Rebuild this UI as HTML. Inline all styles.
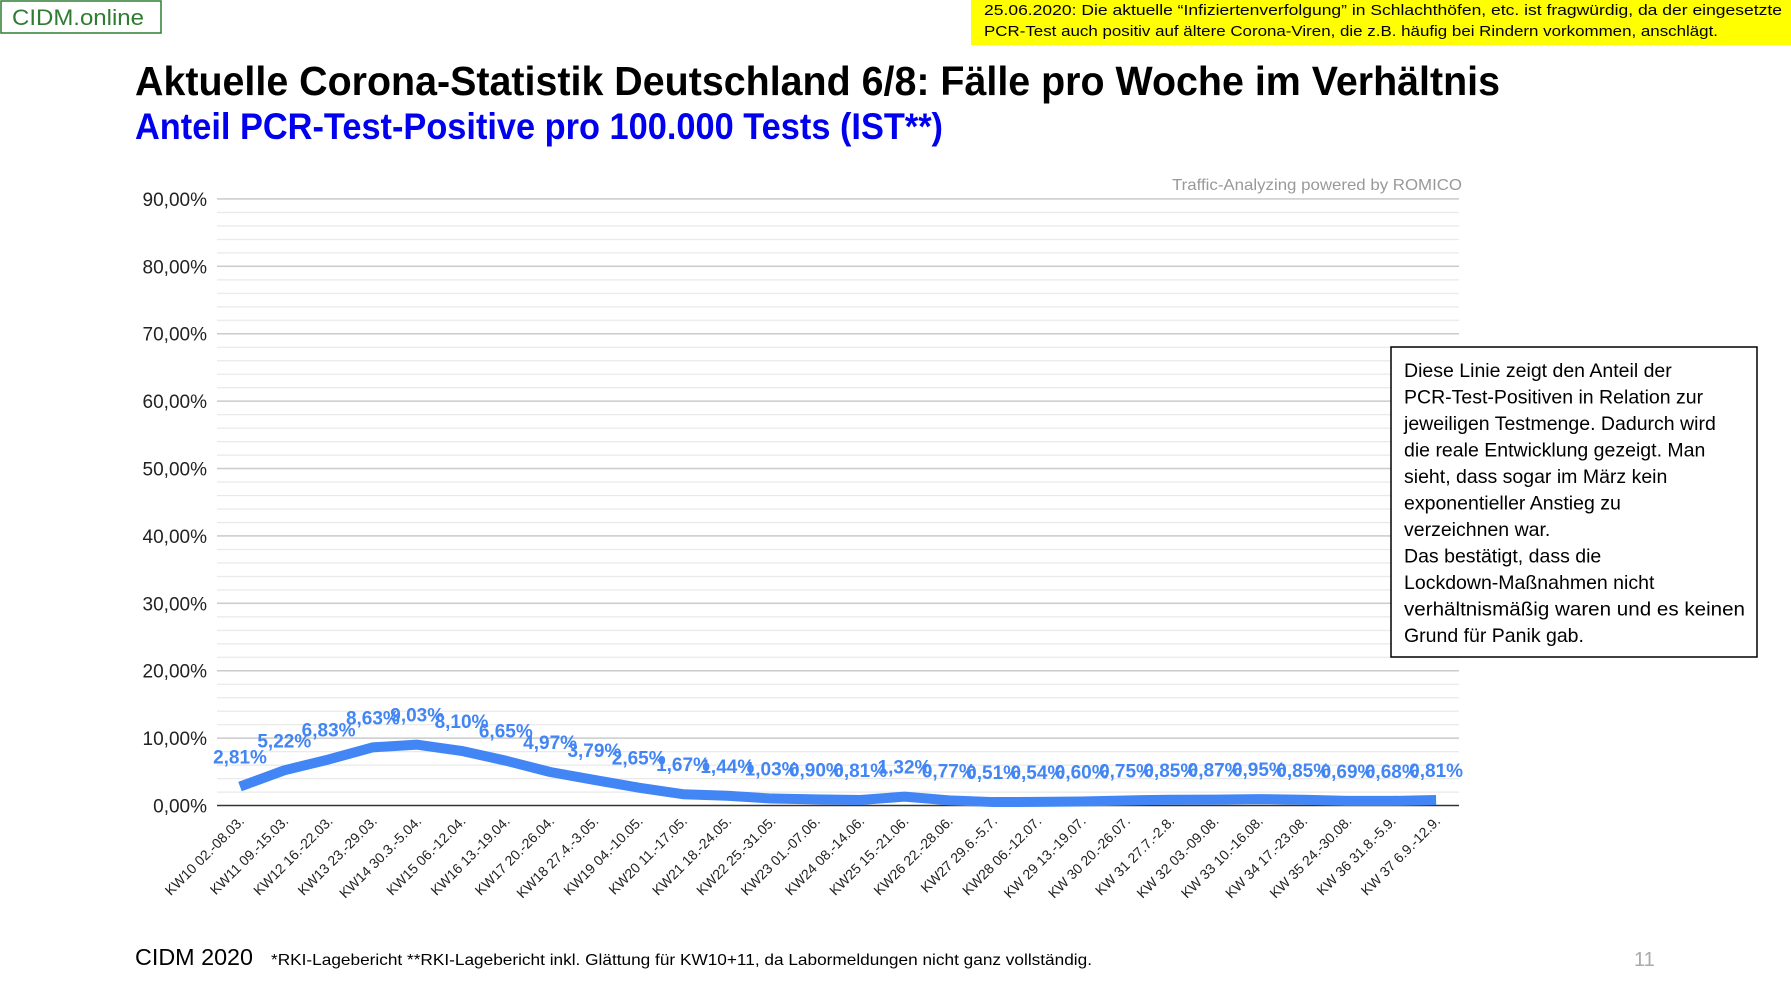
<!DOCTYPE html>
<html><head><meta charset="utf-8"><style>
html,body{margin:0;padding:0;background:#fff;}
svg{display:block;}
</style></head><body>
<svg width="1791" height="1002" xmlns="http://www.w3.org/2000/svg" font-family="Liberation Sans, sans-serif">
<defs>
<pattern id="mg" x="0" y="198.4" width="1242" height="13.48" patternUnits="userSpaceOnUse">
<rect x="0" y="0" width="1242" height="1.2" fill="#e8e8e8"/>
</pattern>
</defs>
<rect x="1" y="1" width="160" height="32" fill="#fff" stroke="#2e7d32" stroke-width="1.5"/>
<text x="12" y="25" font-size="22" fill="#2e7d32" textLength="132" lengthAdjust="spacingAndGlyphs">CIDM.online</text>
<rect x="971" y="0" width="820" height="45" fill="#ffff00"/>
<text x="984" y="15" font-size="15" fill="#000" textLength="798" lengthAdjust="spacingAndGlyphs">25.06.2020: Die aktuelle “Infiziertenverfolgung” in Schlachthöfen, etc. ist fragwürdig, da der eingesetzte</text>
<text x="984" y="36" font-size="15" fill="#000" textLength="734" lengthAdjust="spacingAndGlyphs">PCR-Test auch positiv auf ältere Corona-Viren, die z.B. häufig bei Rindern vorkommen, anschlägt.</text>
<text x="135" y="95" font-size="41" font-weight="bold" fill="#000" textLength="1365" lengthAdjust="spacingAndGlyphs">Aktuelle Corona-Statistik Deutschland 6/8: Fälle pro Woche im Verhältnis</text>
<text x="135" y="139" font-size="37" font-weight="bold" fill="#0000ee" textLength="808" lengthAdjust="spacingAndGlyphs">Anteil PCR-Test-Positive pro 100.000 Tests (IST**)</text>
<text x="1462" y="190" font-size="16" fill="#999" text-anchor="end" textLength="290" lengthAdjust="spacingAndGlyphs">Traffic-Analyzing powered by ROMICO</text>

<rect x="217" y="198.4" width="1242" height="607" fill="url(#mg)"/>
<g stroke="#cccccc" stroke-width="1.5">
<line x1="217" x2="1459" y1="198.9" y2="198.9"/>
<line x1="217" x2="1459" y1="266.3" y2="266.3"/>
<line x1="217" x2="1459" y1="333.7" y2="333.7"/>
<line x1="217" x2="1459" y1="401.1" y2="401.1"/>
<line x1="217" x2="1459" y1="468.5" y2="468.5"/>
<line x1="217" x2="1459" y1="535.9" y2="535.9"/>
<line x1="217" x2="1459" y1="603.3" y2="603.3"/>
<line x1="217" x2="1459" y1="670.7" y2="670.7"/>
<line x1="217" x2="1459" y1="738.1" y2="738.1"/>
</g>
<line x1="217" x2="1459" y1="805.5" y2="805.5" stroke="#333" stroke-width="1.5"/>
<g font-size="19" text-anchor="end" fill="#222">
<text x="207" y="206">90,00%</text>
<text x="207" y="273.3">80,00%</text>
<text x="207" y="340.7">70,00%</text>
<text x="207" y="408.1">60,00%</text>
<text x="207" y="475.5">50,00%</text>
<text x="207" y="542.9">40,00%</text>
<text x="207" y="610.3">30,00%</text>
<text x="207" y="677.7">20,00%</text>
<text x="207" y="745.1">10,00%</text>
<text x="207" y="812.5">0,00%</text>
</g>

<polyline fill="none" stroke="#4285f4" stroke-width="10" stroke-linejoin="round" points="240,786.56 284.3,770.32 328.6,759.47 372.9,747.33 417.2,744.64 461.5,750.91 505.8,760.68 550.1,772 594.4,779.96 638.7,787.64 683,794.24 727.3,795.79 771.6,798.56 815.9,799.43 860.2,800.04 904.5,796.6 948.8,800.31 993.1,802.06 1037.4,801.86 1081.7,801.46 1126,800.44 1170.3,799.77 1214.6,799.64 1258.9,799.1 1303.2,799.77 1347.5,800.85 1391.8,800.92 1436.1,800.04"/>

<g font-size="19" font-weight="bold" text-anchor="middle" fill="#4285f4">
<text x="240" y="763.5">2,81%</text>
<text x="284.3" y="747.3">5,22%</text>
<text x="328.6" y="736.5">6,83%</text>
<text x="372.9" y="724.3">8,63%</text>
<text x="417.2" y="721.6">9,03%</text>
<text x="461.5" y="727.9">8,10%</text>
<text x="505.8" y="737.7">6,65%</text>
<text x="550.1" y="749">4,97%</text>
<text x="594.4" y="757">3,79%</text>
<text x="638.7" y="764.6">2,65%</text>
<text x="683" y="771.2">1,67%</text>
<text x="727.3" y="772.8">1,44%</text>
<text x="771.6" y="775.6">1,03%</text>
<text x="815.9" y="776.4">0,90%</text>
<text x="860.2" y="777">0,81%</text>
<text x="904.5" y="773.6">1,32%</text>
<text x="948.8" y="777.3">0,77%</text>
<text x="993.1" y="779">0,51%</text>
<text x="1037.4" y="778.9">0,54%</text>
<text x="1081.7" y="778.5">0,60%</text>
<text x="1126" y="777.4">0,75%</text>
<text x="1170.3" y="776.8">0,85%</text>
<text x="1214.6" y="776.6">0,87%</text>
<text x="1258.9" y="776.1">0,95%</text>
<text x="1303.2" y="776.8">0,85%</text>
<text x="1347.5" y="777.9">0,69%</text>
<text x="1391.8" y="777.9">0,68%</text>
<text x="1436.1" y="777">0,81%</text>
</g>

<g font-size="14" text-anchor="end" fill="#222">
<text transform="translate(245,822) rotate(-45)">KW10 02.-08.03.</text>
<text transform="translate(289.3,822) rotate(-45)">KW11 09.-15.03.</text>
<text transform="translate(333.6,822) rotate(-45)">KW12 16.-22.03.</text>
<text transform="translate(377.9,822) rotate(-45)">KW13 23.-29.03.</text>
<text transform="translate(422.2,822) rotate(-45)">KW14 30.3.-5.04.</text>
<text transform="translate(466.5,822) rotate(-45)">KW15 06.-12.04.</text>
<text transform="translate(510.8,822) rotate(-45)">KW16 13.-19.04.</text>
<text transform="translate(555.1,822) rotate(-45)">KW17 20.-26.04.</text>
<text transform="translate(599.4,822) rotate(-45)">KW18 27.4.-3.05.</text>
<text transform="translate(643.7,822) rotate(-45)">KW19 04.-10.05.</text>
<text transform="translate(688,822) rotate(-45)">KW20 11.-17.05.</text>
<text transform="translate(732.3,822) rotate(-45)">KW21 18.-24.05.</text>
<text transform="translate(776.6,822) rotate(-45)">KW22 25.-31.05.</text>
<text transform="translate(820.9,822) rotate(-45)">KW23 01.-07.06.</text>
<text transform="translate(865.2,822) rotate(-45)">KW24 08.-14.06.</text>
<text transform="translate(909.5,822) rotate(-45)">KW25 15.-21.06.</text>
<text transform="translate(953.8,822) rotate(-45)">KW26 22.-28.06.</text>
<text transform="translate(998.1,822) rotate(-45)">KW27 29.6.-5.7.</text>
<text transform="translate(1042.4,822) rotate(-45)">KW28 06.-12.07.</text>
<text transform="translate(1086.7,822) rotate(-45)">KW 29 13.-19.07.</text>
<text transform="translate(1131,822) rotate(-45)">KW 30 20.-26.07.</text>
<text transform="translate(1175.3,822) rotate(-45)">KW 31 27.7.-2.8.</text>
<text transform="translate(1219.6,822) rotate(-45)">KW 32 03.-09.08.</text>
<text transform="translate(1263.9,822) rotate(-45)">KW 33 10.-16.08.</text>
<text transform="translate(1308.2,822) rotate(-45)">KW 34 17.-23.08.</text>
<text transform="translate(1352.5,822) rotate(-45)">KW 35 24.-30.08.</text>
<text transform="translate(1396.8,822) rotate(-45)">KW 36 31.8.-5.9.</text>
<text transform="translate(1441.1,822) rotate(-45)">KW 37 6.9.-12.9.</text>
</g>

<rect x="1391" y="347" width="366" height="310" fill="#fff" stroke="#000" stroke-width="1.5"/>
<g font-size="19.5" fill="#000">
<text x="1404" y="377">Diese Linie zeigt den Anteil der</text>
<text x="1404" y="403.5">PCR-Test-Positiven in Relation zur</text>
<text x="1404" y="430">jeweiligen Testmenge. Dadurch wird</text>
<text x="1404" y="456.5">die reale Entwicklung gezeigt. Man</text>
<text x="1404" y="483">sieht, dass sogar im März kein</text>
<text x="1404" y="509.5">exponentieller Anstieg zu</text>
<text x="1404" y="536">verzeichnen war.</text>
<text x="1404" y="562.5">Das bestätigt, dass die</text>
<text x="1404" y="589">Lockdown-Maßnahmen nicht</text>
<text x="1404" y="615.5" textLength="341" lengthAdjust="spacingAndGlyphs">verhältnismäßig waren und es keinen</text>
<text x="1404" y="642">Grund für Panik gab.</text>
</g>
<text x="135" y="965" font-size="23" fill="#000" textLength="118" lengthAdjust="spacingAndGlyphs">CIDM 2020</text>
<text x="271" y="965" font-size="16" fill="#000" textLength="821" lengthAdjust="spacingAndGlyphs">*RKI-Lagebericht   **RKI-Lagebericht inkl. Glättung für KW10+11, da Labormeldungen nicht ganz vollständig.</text>
<text x="1634" y="966" font-size="20" fill="#aaa">11</text>
</svg>
</body></html>
